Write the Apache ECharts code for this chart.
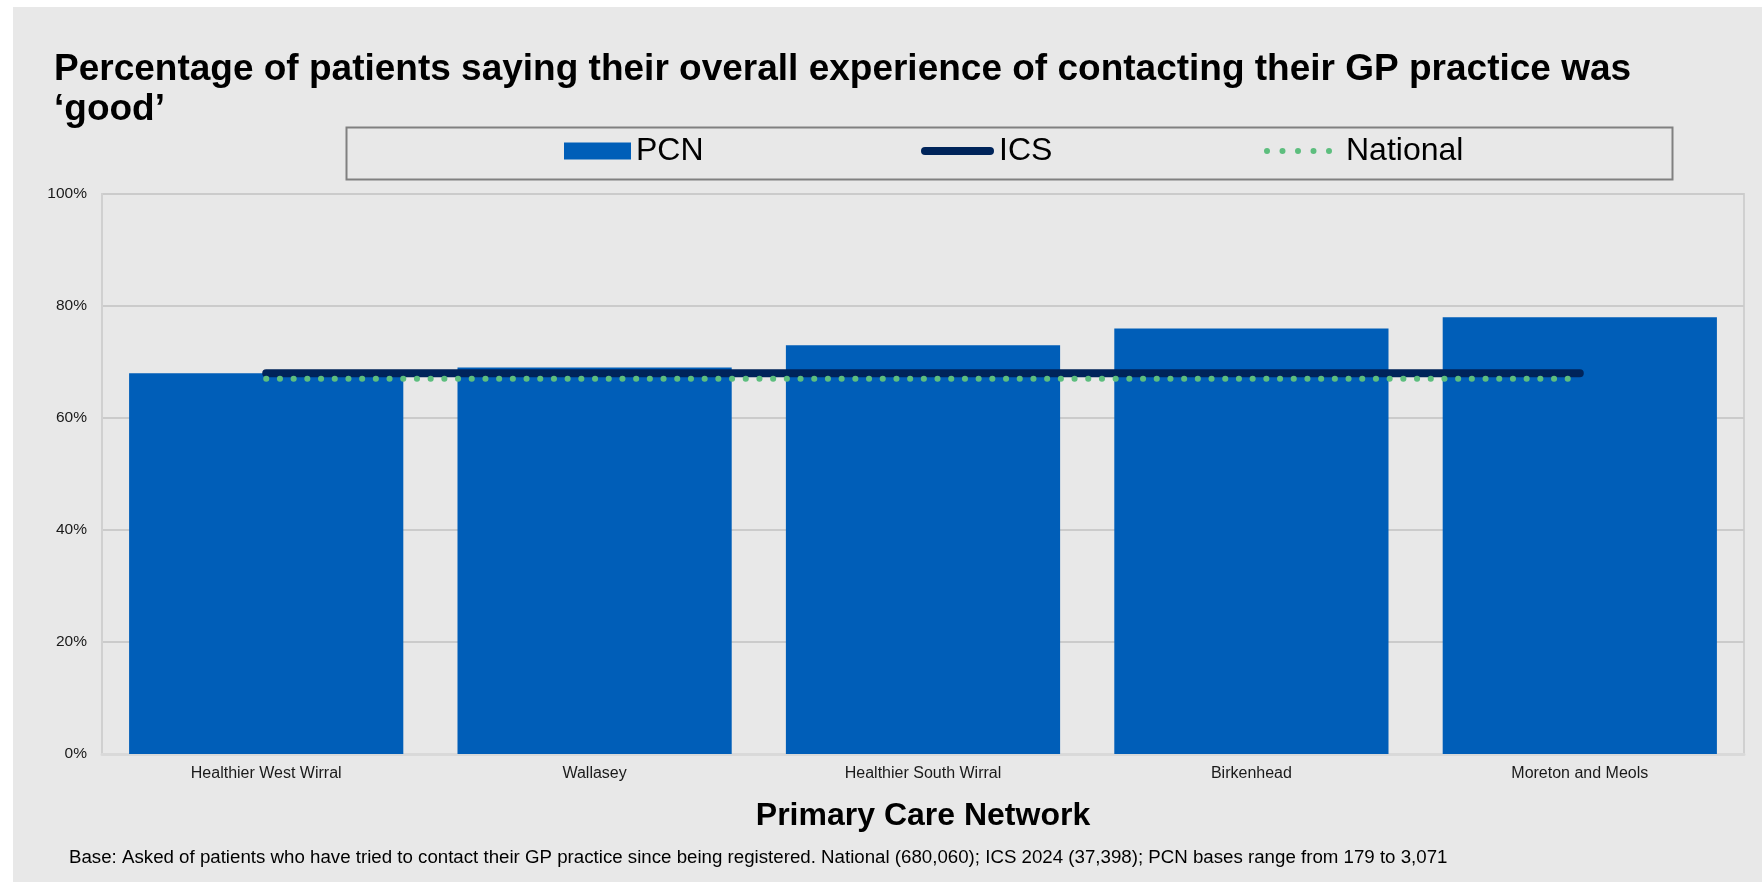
<!DOCTYPE html>
<html>
<head>
<meta charset="utf-8">
<title>Overall experience of contacting GP practice</title>
<script src="https://cdn.jsdelivr.net/npm/echarts@6/dist/echarts.min.js"></script>
<style>
  html, body { margin: 0; padding: 0; background: #ffffff; }
  #chart { width: 1762px; height: 882px; }
</style>
</head>
<body>
<div id="chart"></div>
<script>
// Primary Care Networks and the share of patients rating contact as 'good' (%)
const categories = ['Healthier West Wirral', 'Wallasey', 'Healthier South Wirral', 'Birkenhead', 'Moreton and Meols'];
const pcnValues = [68, 69, 73, 76, 78];
const icsValues = [68, 68, 68, 68, 68];
const nationalValues = [67, 67, 67, 67, 67];
const yTickStep = 20;

const titleText = 'Percentage of patients saying their overall experience of contacting their GP practice was\n\u2018good\u2019';
const footnoteText = 'Base: Asked of patients who have tried to contact their GP practice since being registered. National (680,060); ICS 2024 (37,398); PCN bases range from 179 to 3,071';

const FONT = '"Liberation Sans", Arial, Helvetica, sans-serif';
const BAR_BLUE = '#005EB8';
const ICS_NAVY = '#00245A';
const NAT_GREEN = '#5DBE7E';

// Legend icons: a rounded bar for the ICS line, a row of five dots for National
const ICS_ICON = 'path://M4,0 L69,0 A4,4 0 0 1 69,8 L4,8 A4,4 0 0 1 4,0 Z';
const NAT_ICON = 'path://' + [3, 18.5, 34, 49.5, 65].map(function (c) {
  return 'M' + (c - 3) + ',3 A3,3 0 1 0 ' + (c + 3) + ',3 A3,3 0 1 0 ' + (c - 3) + ',3 Z';
}).join(' ');

const chart = echarts.init(document.getElementById('chart'), null, { renderer: 'canvas' });

const legendText = { fontFamily: FONT, fontSize: 32, color: '#000000', lineHeight: 32 };

chart.setOption({
  backgroundColor: '#ffffff',
  animation: false,
  graphic: [
    { type: 'rect', left: 13, top: 7, z: -10, silent: true,
      shape: { width: 1749, height: 875 }, style: { fill: '#E8E8E8' } },
    { type: 'rect', left: 344, top: 125, z: -5, silent: true,
      shape: { width: 1326, height: 52 }, style: { fill: 'none', stroke: '#808080', lineWidth: 2 } },
    { type: 'text', left: 69, top: 848, silent: true,
      style: { text: footnoteText, font: '18.7px ' + FONT, fill: '#000000' } }
  ],
  title: {
    text: titleText,
    left: 54,
    top: 50,
    padding: 0,
    textStyle: { fontFamily: FONT, fontSize: 37, fontWeight: 'bold', color: '#000000', lineHeight: 40 }
  },
  legend: [
    { data: ['PCN'], left: 564, top: 135, padding: 0, icon: 'rect', itemWidth: 67, itemHeight: 17,
      textStyle: legendText, selectedMode: false },
    { data: ['ICS'], left: 921, top: 135, padding: 0, icon: ICS_ICON, itemWidth: 73, itemHeight: 8,
      textStyle: legendText, selectedMode: false },
    { data: ['National'], left: 1264, top: 135, padding: 0, icon: NAT_ICON, itemWidth: 68, itemHeight: 6,
      textStyle: Object.assign({}, legendText, { padding: [0, 0, 0, 9] }), selectedMode: false }
  ],
  grid: {
    left: 102, right: 18, top: 194, bottom: 128,
    show: true, borderColor: '#D0D0D0', borderWidth: 2, backgroundColor: 'transparent'
  },
  xAxis: {
    type: 'category',
    data: categories,
    axisTick: { show: false },
    axisLine: { show: true, lineStyle: { color: '#D9D9D9', width: 3 } },
    axisLabel: { fontFamily: FONT, fontSize: 16, color: '#1A1A1A', margin: 12 },
    name: 'Primary Care Network',
    nameLocation: 'middle',
    nameGap: 46,
    nameTextStyle: { fontFamily: FONT, fontSize: 32, fontWeight: 'bold', color: '#000000', lineHeight: 32 }
  },
  yAxis: {
    type: 'value',
    min: 0, max: 100, interval: yTickStep,
    axisLine: { show: true, lineStyle: { color: '#D0D0D0', width: 2 } },
    axisTick: { show: false },
    splitLine: { show: true, lineStyle: { color: '#CBCBCB', width: 2 } },
    axisLabel: { formatter: '{value}%', fontFamily: FONT, fontSize: 15.5, color: '#1A1A1A', margin: 15 }
  },
  series: [
    {
      name: 'PCN', type: 'bar', data: pcnValues,
      barCategoryGap: '16.5%',
      itemStyle: { color: BAR_BLUE }
    },
    {
      name: 'ICS', type: 'line', data: icsValues, symbol: 'none', z: 5,
      itemStyle: { color: ICS_NAVY },
      lineStyle: { color: ICS_NAVY, width: 8, cap: 'round' }
    },
    {
      name: 'National', type: 'line', data: nationalValues, symbol: 'none', z: 6,
      itemStyle: { color: NAT_GREEN },
      lineStyle: { color: NAT_GREEN, width: 6, type: [0.1, 13.6], cap: 'round' }
    }
  ]
});
</script>
</body>
</html>
